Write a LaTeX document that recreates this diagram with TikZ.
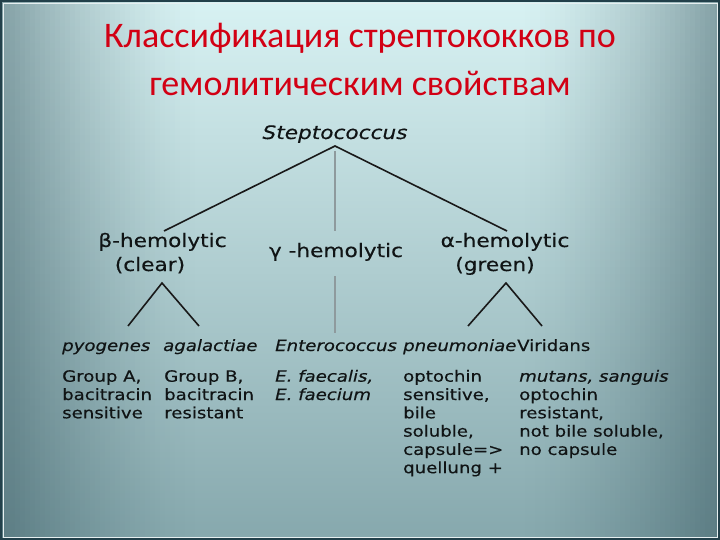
\documentclass[tikz,border=0pt]{standalone}
\usepackage{fontspec}
\newfontfamily\titlefont{Carlito}
\newfontfamily\djfont[FakeStretch=1.17,FakeBold=0.4]{DejaVu Sans}
\definecolor{bgtop}{HTML}{D8F2F3}
\definecolor{bgmid}{HTML}{ABCBCE}
\definecolor{bgbot}{HTML}{86A8AD}
\definecolor{shadecol}{HTML}{2F4F58}
\definecolor{framecol}{HTML}{22404A}
\definecolor{titlered}{RGB}{210,0,20}
\definecolor{txt}{HTML}{101415}
\definecolor{graylinecol}{HTML}{8E9A9D}
\tikzset{
  ttl/.style={font=\titlefont\fontsize{36}{43}\selectfont, text=titlered, inner sep=0pt, anchor=base},
  big/.style={font=\djfont\fontsize{18.5}{22}\selectfont, text=txt, inner sep=0pt, anchor=base},
  small/.style={font=\djfont\fontsize{15.5}{18.3}\selectfont, text=txt, inner sep=0pt, anchor=base west, align=left},
  blk/.style={draw=black!90, line width=1.6pt, line join=miter},
  gry/.style={draw=graylinecol, line width=2.6pt}
}
\begin{document}
\begin{tikzpicture}[x=1pt,y=-1pt]
\useasboundingbox (0,0) rectangle (720,540);
% background: vertical gradient, then darker side bands
\fill[top color=bgtop, middle color=bgmid, bottom color=bgbot] (0,0) rectangle (720,540);
\foreach \i in {0,...,39}{
  \pgfmathsetmacro{\op}{0.5*(1-(\i*5+2.5)/200)^1.5}
  \fill[shadecol, fill opacity=\op] (\i*5,0) rectangle (\i*5+5.05,540);
  \fill[shadecol, fill opacity=\op] (720-\i*5,0) rectangle (715-\i*5-0.05,540);
}
\draw[white!70!bgmid, line width=0.8pt] (3,3) rectangle (717,537);
\draw[framecol, line width=2.2pt] (1.1,1.1) rectangle (718.9,538.9);
% title
\node[ttl] (t1) at (360,48) {Классификация стрептококков по};
\node[ttl] (t2) at (360,96) {гемолитическим свойствам};
% level 1 and 2
\node[big] (strep) at (335,139) {\itshape Steptococcus};
\node[big] (beta) at (162.5,247) {β-hemolytic};
\node[big] (clear) at (150,271) {(clear)};
\node[big] (gamma) at (336,257) {γ -hemolytic};
\node[big] (alpha) at (505,247) {α-hemolytic};
\node[big] (green) at (495,271) {(green)};
% level 3
\node[small] (pyo) at (62,351) {\itshape pyogenes};
\node[small] (aga) at (163,351) {\itshape agalactiae};
\node[small] (ent) at (275,351) {\itshape Enterococcus};
\node[small] (pne) at (403,351) {\itshape pneumoniae};
\node[small] (vir) at (517,351) {Viridans};
% descriptions (base anchor = baseline of the last line)
\node[small] (dA) at (62,418.3) {Group A,\\bacitracin\\sensitive};
\node[small] (dB) at (164,418.3) {Group B,\\bacitracin\\resistant};
\node[small] (dE) at (275,400) {\itshape E. faecalis,\\\itshape E. faecium};
\node[small] (dP) at (403,473.2) {optochin\\sensitive,\\bile\\soluble,\\capsule=>\\quellung +};
\node[small] (dV) at (519,454.9) {\itshape mutans, sanguis\\optochin\\resistant,\\not bile soluble,\\no capsule};
% connection points
\coordinate (sA) at (335,146);
\coordinate (bT) at (164,231);
\coordinate (aT) at (507,231);
\coordinate (g1) at (335,151);
\coordinate (g2) at (335,231);
\coordinate (g3) at (335,276);
\coordinate (g4) at (335,333);
\coordinate (cL) at (162,283);
\coordinate (cLa) at (128,326);
\coordinate (cLb) at (199,326);
\coordinate (cR) at (506,283);
\coordinate (cRa) at (468,326);
\coordinate (cRb) at (542,326);
% connectors
\draw[gry] (g1) -- (g2);
\draw[gry] (g3) -- (g4);
\draw[blk] (bT) -- (sA) -- (aT);
\draw[blk] (cLa) -- (cL) -- (cLb);
\draw[blk] (cRa) -- (cR) -- (cRb);
\end{tikzpicture}
\end{document}
